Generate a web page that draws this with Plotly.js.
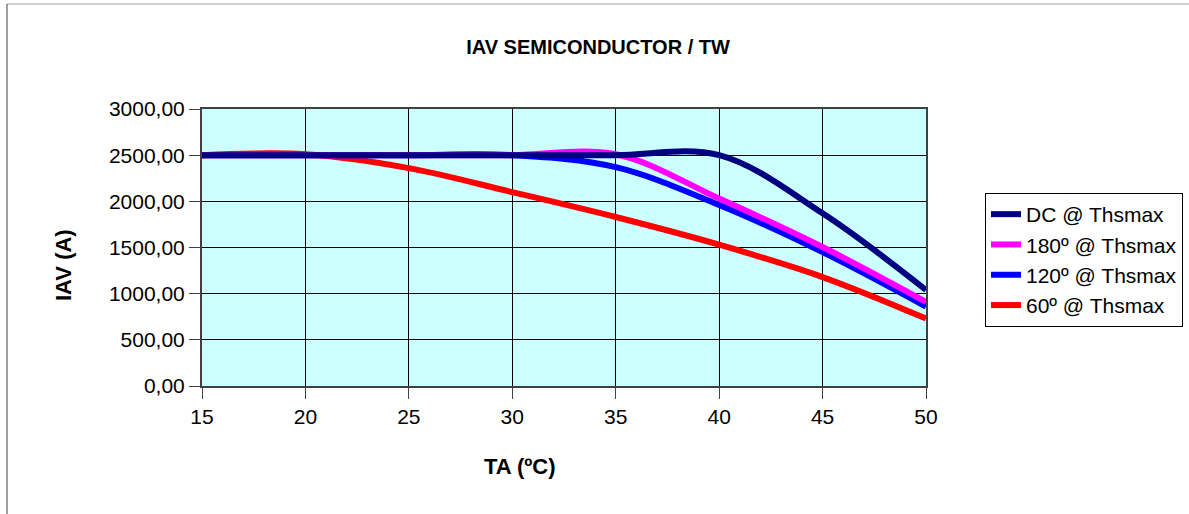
<!DOCTYPE html>
<html><head><meta charset="utf-8">
<script src="https://cdn.plot.ly/plotly-3.0.1.min.js"></script>
<style>html,body{margin:0;padding:0;background:#fff}#chart{width:1189px;height:514px}</style>
</head><body><div id="chart"></div>
<script>
// Data
const temps = [15, 20, 25, 30, 35, 40, 45, 50];
const dcThsmax = [2500, 2500, 2500, 2500, 2500, 2500, 1870, 1040];
const deg180Thsmax = [2500, 2500, 2500, 2500, 2510, 2030, 1505, 910];
const deg120Thsmax = [2500, 2500, 2500, 2500, 2370, 1960, 1450, 860];
const deg60Thsmax = [2500, 2510, 2360, 2100, 1830, 1530, 1180, 730];
const seriesNames = ['DC @ Thsmax', '180º @ Thsmax', '120º @ Thsmax', '60º @ Thsmax'];
const xTicks = [15, 20, 25, 30, 35, 40, 45, 50];
const yTicks = [0, 500, 1000, 1500, 2000, 2500, 3000];

const FONT = 'Liberation Sans, Arial, sans-serif';
function tr(y, name, color) {
  return {x: temps, y: y, name: name, type: 'scatter', mode: 'lines',
    line: {color: color, width: 6, shape: 'spline', smoothing: 1}, hoverinfo: 'x+y+name'};
}
// drawn bottom to top: 60, 120, 180, DC (legend reversed to DC first)
const data = [
  tr(deg60Thsmax, seriesNames[3], '#FF0000'),
  tr(deg120Thsmax, seriesNames[2], '#0000FF'),
  tr(deg180Thsmax, seriesNames[1], '#FF00FF'),
  tr(dcThsmax, seriesNames[0], '#000080')
];

// plot area in pixels: left 202, right 926, top 109, bottom 386
const L = 202, R = 926, T = 109, B = 386, W = 1189, H = 514;
const px = v => (v - L) / (R - L);
const py = v => (B - v) / (B - T);

const layout = {
  width: W, height: H,
  margin: {l: L, r: W - R, t: T, b: H - B, pad: 0, autoexpand: false},
  paper_bgcolor: '#FFFFFF',
  plot_bgcolor: '#CCFFFF',
  separators: ',.',
  font: {family: FONT, color: '#000', size: 20},
  showlegend: true,
  title: {text: '<b>IAV SEMICONDUCTOR / TW</b>', font: {family: FONT, size: 20, color: '#000'},
    xref: 'paper', x: px(598), xanchor: 'center', yref: 'container', y: 1 - 47 / H, yanchor: 'middle'},
  xaxis: {range: [15, 50], tickvals: xTicks, ticktext: xTicks.map(String),
    showgrid: true, gridcolor: '#000000', gridwidth: 1,
    showline: true, linecolor: '#404040', linewidth: 2, mirror: true,
    ticks: 'outside', ticklen: 11, tickcolor: '#404040', tickwidth: 1,
    tickfont: {family: FONT, size: 21, color: '#000'}, zeroline: false, fixedrange: true,
    automargin: false},
  yaxis: {range: [0, 3000], tickvals: yTicks, tickformat: '.2f',
    showgrid: true, gridcolor: '#000000', gridwidth: 1,
    showline: true, linecolor: '#404040', linewidth: 2, mirror: true,
    ticks: 'outside', ticklen: 11, tickcolor: '#404040', tickwidth: 1,
    tickfont: {family: FONT, size: 21, color: '#000'}, zeroline: false, fixedrange: true,
    automargin: false},
  legend: {x: px(985), y: py(193), xanchor: 'left', yanchor: 'top',
    bgcolor: '#FFFFFF', bordercolor: '#000000', borderwidth: 1,
    font: {family: FONT, size: 21, color: '#000'}, traceorder: 'reversed',
    itemwidth: 30, tracegroupgap: 0},
  annotations: [
    {text: '<b>TA (ºC)</b>', xref: 'paper', yref: 'paper', x: px(520), y: py(466),
      xanchor: 'center', yanchor: 'middle', showarrow: false,
      font: {family: FONT, size: 22, color: '#000'}},
    {text: '<b>IAV (A)</b>', xref: 'paper', yref: 'paper', x: px(63), y: py(265),
      xanchor: 'center', yanchor: 'middle', showarrow: false, textangle: -90,
      font: {family: FONT, size: 22, color: '#000'}}
  ],
  shapes: [
    {type: 'line', xref: 'paper', yref: 'paper', x0: px(7), x1: px(1189), y0: py(4), y1: py(4),
      line: {color: '#A0A0A0', width: 1}},
    {type: 'line', xref: 'paper', yref: 'paper', x0: px(7), x1: px(7), y0: py(4), y1: py(514),
      line: {color: '#404040', width: 1}}
  ]
};

Plotly.newPlot('chart', data, layout, {displayModeBar: false, staticPlot: true});
</script>
</body></html>
